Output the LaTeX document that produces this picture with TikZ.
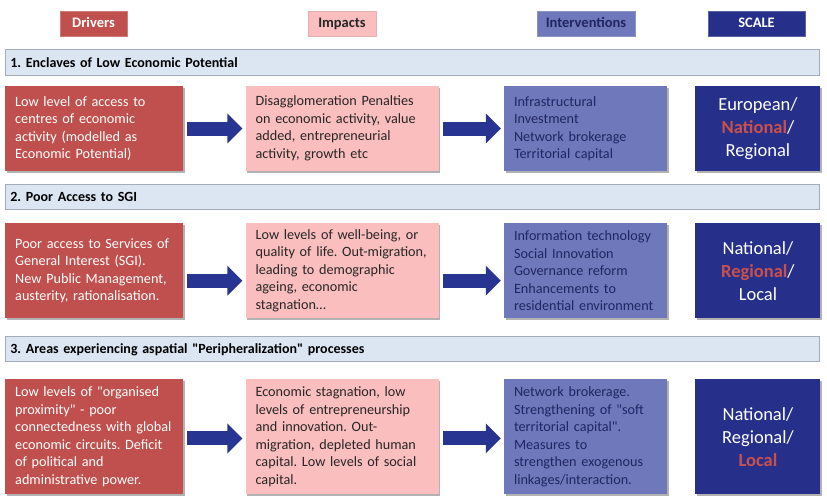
\documentclass[tikz,border=0pt]{standalone}
\usepackage{fontspec}
\setmainfont{Carlito}
\usetikzlibrary{shapes, arrows.meta, positioning, shadows}
\definecolor{drvred}{RGB}{192,80,77}
\definecolor{imppink}{RGB}{251,190,190}
\definecolor{intblue}{RGB}{111,120,186}
\definecolor{intnavy}{RGB}{32,38,100}
\definecolor{sclnavy}{RGB}{38,48,138}
\definecolor{arrnavy}{RGB}{40,52,145}
\definecolor{bannerbg}{RGB}{220,230,242}
\definecolor{bannerln}{RGB}{165,172,185}
\definecolor{sclred}{RGB}{200,80,77}
\frenchspacing

\begin{document}
\begin{tikzpicture}[x=1pt, y=-1pt, node distance = 62pt]
		% Define elements
		\tikzstyle{line} = [draw=arrnavy, line width=14pt, -{Triangle[length=15pt, width=29pt]}, shorten <=4pt, shorten >=3pt]
		\tikzstyle{head} = [rectangle, draw, line width=0.8pt, minimum height=25pt, inner sep=0pt, text height=1.5ex, text depth=0pt,
		    font = \fontsize{14.5}{16}\selectfont\bfseries]
		\tikzstyle{banner} = [rectangle, draw=bannerln, fill=bannerbg, line width=0.8pt, minimum width=814pt, minimum height=25pt,
		    inner xsep=5pt, text width=804pt, align=left, font = \fontsize{14}{16}\selectfont\bfseries]
		\tikzstyle{block} = [rectangle, inner xsep=10pt, inner ysep=0pt, align=left, font = \fontsize{14.2}{17.5}\selectfont,
		    drop shadow={shadow xshift=1.5pt, shadow yshift=-2pt, opacity=0.3, fill=black}]
		\tikzstyle{drv} = [block, fill=drvred, text=white, text width=158pt]
		\tikzstyle{imp} = [block, fill=imppink, text=black!85, text width=173pt]
		\tikzstyle{int} = [block, fill=intblue, text=intnavy, text width=143pt]
		\tikzstyle{scl} = [block, fill=sclnavy, text=white, text width=105pt, align=center, font = \fontsize{18.5}{23}\selectfont]
		\path [use as bounding box, fill=white] (0,0) rectangle (827,498);

		%% Column heads
		\node [name = hdrv, head, fill=drvred, draw=drvred!75!white, text=white, minimum width=67pt] at (93.5,23.5) {Drivers};
		\node [name = himp, head, fill=imppink, draw=imppink!80!gray, text=black!85, minimum width=68pt] at (342,23.5) {Impacts};
		\node [name = hint, head, fill=intblue, draw=intblue!80!white, text=intnavy, minimum width=98pt] at (586,23.5) {Interventions};
		\node [name = hscl, head, fill=sclnavy, draw=sclnavy!75!white, text=white, minimum width=97pt] at (756.5,23.5) {SCALE};

		%% 1. Enclaves
		\node [name = ban1, banner, minimum height=26pt, anchor = north west] at (5,49) {1. Enclaves of Low Economic Potential};
		\node [name = drv1, drv, minimum height=85pt, below=10pt of ban1.south west, anchor = north west]
		    {Low level of access to\\ centres of economic\\ activity (modelled as\\ Economic Potential)};
		\node [name = imp1, imp, minimum height=85pt, right=62pt of drv1]
		    {Disagglomeration Penalties\\ on economic activity, value\\ added, entrepreneurial\\ activity, growth etc};
		\node [name = int1, int, minimum height=85pt, right=65pt of imp1]
		    {Infrastructural\\ Investment\\ Network brokerage\\ Territorial capital};
		\node [name = scl1, scl, minimum height=85pt, right=28pt of int1]
		    {European/\\ \textcolor{sclred}{\bfseries National}/\\ Regional};

		%% 2. SGI
		\node [name = ban2, banner, below=13pt of drv1.south west, anchor = north west] {2. Poor Access to SGI};
		\node [name = drv2, drv, minimum height=95pt, below=13pt of ban2.south west, anchor = north west]
		    {Poor access to Services of\\ General Interest (SGI).\\ New Public Management,\\ austerity, rationalisation.};
		\node [name = imp2, imp, minimum height=95pt, right=62pt of drv2]
		    {Low levels of well-being, or\\ quality of life. Out-migration,\\ leading to demographic\\ ageing, economic\\ stagnation\ldots};
		\node [name = int2, int, minimum height=95pt, right=65pt of imp2]
		    {Information technology\\ Social Innovation\\ Governance reform\\ Enhancements to\\ residential environment};
		\node [name = scl2, scl, minimum height=95pt, right=28pt of int2]
		    {National/\\ \textcolor{sclred}{\bfseries Regional}/\\ Local};

		%% 3. Peripheralization
		\node [name = ban3, banner, below=18pt of drv2.south west, anchor = north west]
		    {3. Areas experiencing aspatial \textquotedbl Peripheralization\textquotedbl\ processes};
		\node [name = drv3, drv, minimum height=115pt, below=17pt of ban3.south west, anchor = north west]
		    {Low levels of \textquotedbl organised\\ proximity\textquotedbl\ - poor\\ connectedness with global\\ economic circuits. Deficit\\ of political and\\ administrative power.};
		\node [name = imp3, imp, minimum height=115pt, right=62pt of drv3]
		    {Economic stagnation, low\\ levels of entrepreneurship\\ and innovation. Out-\\ migration, depleted human\\ capital. Low levels of social\\ capital.};
		\node [name = int3, int, minimum height=115pt, right=65pt of imp3]
		    {Network brokerage.\\ Strengthening of \textquotedbl soft\\ territorial capital\textquotedbl.\\ Measures to\\ strengthen exogenous\\ linkages/interaction.};
		\node [name = scl3, scl, minimum height=115pt, right=28pt of int3]
		    {National/\\ Regional/\\ \textcolor{sclred}{\bfseries Local}};

	% arrows
		\path [line] (drv1) -- (imp1);
		\path [line] (imp1) -- (int1);
		\path [line] ([yshift=-10pt]drv2.east) -- ([yshift=-10pt]drv2.east -| imp2.west);
		\path [line] ([yshift=-10pt]imp2.east) -- ([yshift=-10pt]imp2.east -| int2.west);
		\path [line] ([yshift=-1.5pt]drv3.east) -- ([yshift=-1.5pt]drv3.east -| imp3.west);
		\path [line] ([yshift=-1.5pt]imp3.east) -- ([yshift=-1.5pt]imp3.east -| int3.west);
	\end{tikzpicture}
\end{document}
